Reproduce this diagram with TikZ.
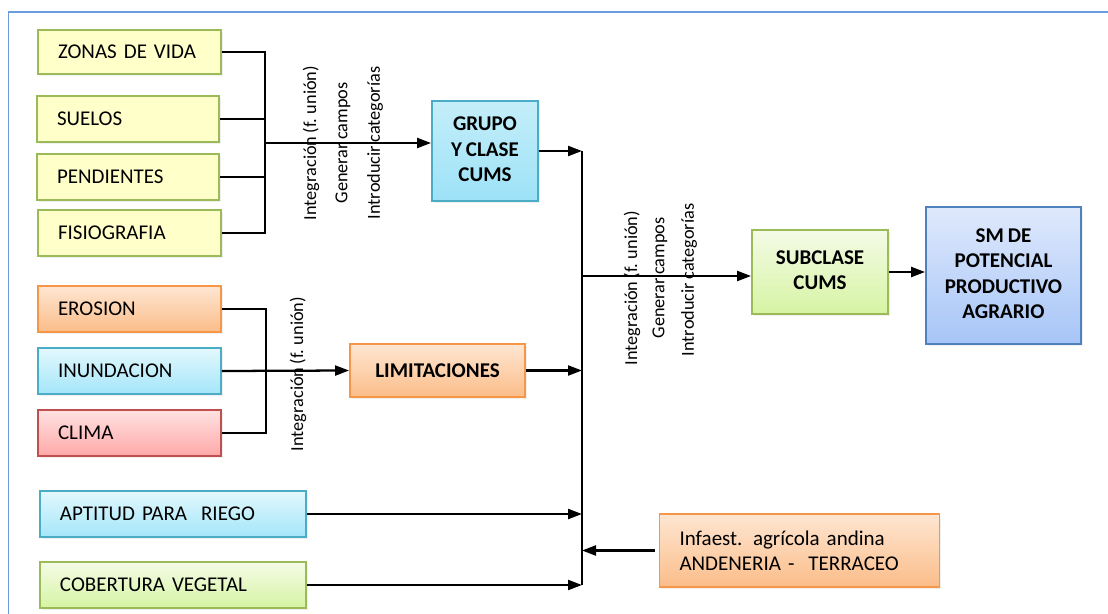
\documentclass[tikz,border=0pt]{standalone}
\usepackage{fontspec}
\setmainfont[WordSpace=0.8]{Carlito}
\usetikzlibrary{arrows.meta,shadows}
\newdimen\pxu \pxu=0.75pt

\definecolor{frameblue}{HTML}{6C9CE0}
\definecolor{olivebd}{HTML}{9BBB59}
\definecolor{palefill}{HTML}{FFFFCA}
\definecolor{orangebd}{HTML}{F79646}
\definecolor{orangetop}{HTML}{FEE6D2}
\definecolor{orangebot}{HTML}{FBBD89}
\definecolor{cyanbd}{HTML}{4BACC6}
\definecolor{cyantop}{HTML}{E3F8FD}
\definecolor{cyanbot}{HTML}{A4E6FA}
\definecolor{cyandtop}{HTML}{C4EEF9}
\definecolor{cyandbot}{HTML}{9DE2F8}
\definecolor{redbd}{HTML}{C0504D}
\definecolor{redtop}{HTML}{FFE2E2}
\definecolor{redbot}{HTML}{FFA8A8}
\definecolor{greentop}{HTML}{F4FBE6}
\definecolor{greenbot}{HTML}{D6F4A3}
\definecolor{bluebd}{HTML}{4F81BD}
\definecolor{bluetop}{HTML}{DFE9FC}
\definecolor{bluebot}{HTML}{A6C5F7}

% centred block of lines, raised by #1
\newcommand{\liftlines}[2]{\raisebox{#1}{\begin{tabular}{@{}c@{}}#2\end{tabular}}}

\begin{document}
\begin{tikzpicture}[x=0.75pt,y=-0.75pt,
  box/.style={draw, line width=1.4pt, rectangle,
    drop shadow={opacity=0.12, shadow xshift=1.2pt, shadow yshift=-1.2pt},
    font=\fontsize{15.75}{19}\selectfont},
  lbox/.style={box, inner xsep=20\pxu, inner ysep=0pt, align=left},
  cbox/.style={box, inner sep=0pt, align=center, font=\fontsize{15.75}{19}\selectfont\bfseries},
  yellowbox/.style={fill=palefill, draw=olivebd},
  orangebox/.style={top color=orangetop, bottom color=orangebot, draw=orangebd},
  cyanbox/.style={top color=cyantop, bottom color=cyanbot, draw=cyanbd},
  cyandeep/.style={top color=cyandtop, bottom color=cyandbot, draw=cyanbd},
  redbox/.style={top color=redtop, bottom color=redbot, draw=redbd},
  greenbox/.style={top color=greentop, bottom color=greenbot, draw=olivebd},
  bluebox/.style={top color=bluetop, bottom color=bluebot, draw=bluebd},
  wire/.style={line width=1.7pt, black},
  flow/.style={wire, -{Triangle[length=10.5pt,width=7.5pt]}},
  vlabel/.style={rotate=90, inner sep=0pt, font=\fontsize{13.7}{16}\selectfont}
]
\useasboundingbox (0,0) rectangle (1108,614);

% outer frame (only its top and left sides fall inside the page)
\begin{scope}
  \clip (0,0) rectangle (1108,614);
  \draw[frameblue, line width=1.2pt] (8.5,12) rectangle (1140,650);
\end{scope}

% input layers of the first integration
\node[lbox, yellowbox, text width=143\pxu, minimum height=44\pxu] (zonas) at (129.5,52) {ZONAS DE VIDA};
\node[lbox, yellowbox, text width=142\pxu, minimum height=46\pxu] (suelos) at (128,119) {SUELOS};
\node[lbox, yellowbox, text width=142\pxu, minimum height=46\pxu] (pend) at (128,177) {PENDIENTES};
\node[lbox, yellowbox, text width=143\pxu, minimum height=46\pxu] (fisio) at (129.5,233) {FISIOGRAFIA};

% limitation layers
\node[lbox, orangebox, text width=143\pxu, minimum height=46\pxu] (erosion) at (129.5,309) {EROSION};
\node[lbox, cyanbox, text width=143\pxu, minimum height=46\pxu] (inund) at (129.5,371) {INUNDACION};
\node[lbox, redbox, text width=143\pxu, minimum height=46\pxu] (clima) at (129.5,433) {CLIMA};

% further layers
\node[lbox, cyanbox, text width=226\pxu, minimum height=46\pxu] (riego) at (173,514) {APTITUD PARA\ \ RIEGO};
\node[lbox, greenbox, text width=226\pxu, minimum height=46\pxu] (cober) at (173,585) {COBERTURA VEGETAL};
\node[lbox, orangebox, text width=240\pxu, minimum height=73\pxu] (infa) at (799.5,550.5) {Infaest. agrícola andina\\ANDENERIA -\ \ TERRACEO};

% intermediate and final results
\node[cbox, cyandeep, minimum width=106\pxu, minimum height=100\pxu] (grupo) at (485,151) {\liftlines{1.5\pxu}{GRUPO\\Y CLASE\\CUMS}};
\node[cbox, orangebox, minimum width=175\pxu, minimum height=53\pxu] (limit) at (437.5,370.5) {LIMITACIONES};
\node[cbox, greenbox, minimum width=136\pxu, minimum height=84\pxu] (sub) at (820,272) {\liftlines{4.5\pxu}{SUBCLASE\\CUMS}};
\node[cbox, bluebox, minimum width=155\pxu, minimum height=137\pxu] (sm) at (1003.5,275.5) {\liftlines{7\pxu}{SM DE\\POTENCIAL\\PRODUCTIVO\\AGRARIO}};

% junction points
\coordinate (j1) at (265,143);
\coordinate (j2) at (266,369);
\coordinate (bustop) at (582,151);
\coordinate (busbot) at (582,585);
\coordinate (busout) at (582,276);

% first bracket
\draw[wire] (zonas.east) -| (j1);
\draw[wire] (fisio.east) -| (j1);
\draw[wire] (suelos.east) -- (suelos.east -| j1);
\draw[wire] (pend.east) -- (pend.east -| j1);
\draw[flow] (j1) -- (j1 -| grupo.west);

% second bracket
\draw[wire] (erosion.east) -| (j2);
\draw[wire] (clima.east) -| (j2);
\draw[flow] (inund.east) -- (limit.west);

% collecting bus
\draw[wire] (bustop) -- (busbot);
\draw[flow] (grupo.east) -- (bustop);
\draw[flow] (limit.east) -- (limit.east -| bustop);
\draw[flow] (riego.east) -- (riego.east -| bustop);
\draw[flow] (cober.east) -- (cober.east -| bustop);
\draw[flow] ([xshift=-3pt]infa.west) -- (infa.west -| bustop);
\draw[flow] (busout) -- (busout -| sub.west);
\draw[flow] (sub.east) -- (sm.west |- sub.east);

% operation labels
\node[vlabel] (op1a) at (311,143) {Integración (f. unión)};
\node[vlabel] (op1b) at (343,143) {Generar campos};
\node[vlabel] (op1c) at (375,143) {Introducir categorías};
\node[vlabel] (op2) at (298,374) {Integración (f. unión)};
\node[vlabel] (op3a) at (632,288) {Integración (f. unión)};
\node[vlabel] (op3b) at (660,278) {Generar campos};
\node[vlabel] (op3c) at (689,280) {Introducir categorías};
\end{tikzpicture}
\end{document}
